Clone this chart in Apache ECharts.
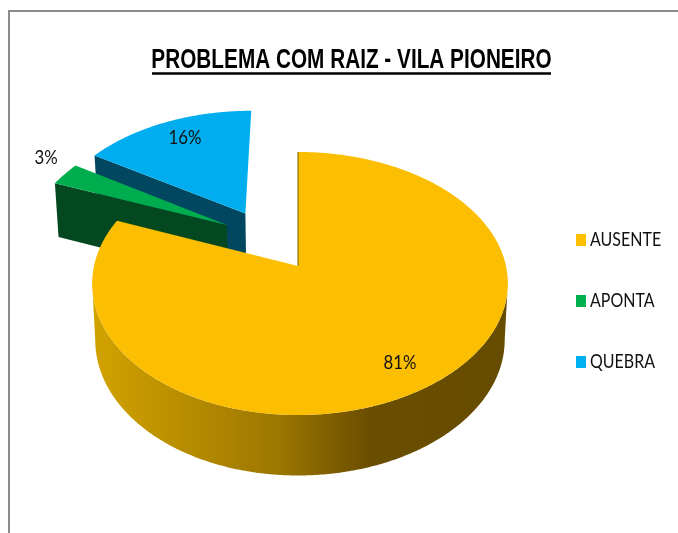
<!DOCTYPE html>
<html><head><meta charset="utf-8">
<style>html,body{margin:0;padding:0;background:#fff}#c{width:678px;height:533px}</style>
<script src="https://cdn.jsdelivr.net/npm/echarts@6/dist/echarts.min.js"></script>
</head><body><div id="c"></div>
<script>
const chartTitle = 'PROBLEMA COM RAIZ - VILA PIONEIRO';
const categories = ['AUSENTE', 'APONTA', 'QUEBRA'];
const values = [81, 3, 16];
const topColors = ['#FCBE00', '#00AD4E', '#00AEEF'];
const sideColors = [null, '#04481F', '#00475F'];
const legendColors = ['#FFC000', '#00B050', '#00B0F0'];
const explode = [[0, 0], [-0.36, 0.331], [-0.27, 0.43]];
const rimShift = [0.0097, 0, 0];
const labelAt = [[400, 363], [46, 158], [185, 138]];
const legendRowY = [240, 301, 362];
const zOrder = [4, 3, 2];

const VIEW = {cx: 298, cy: 266, bx: 206, by: 129.2, k: 0.133, depth: 56, sx: 0.985, sy: 1.03};
const LABEL_FONT = 'Lato, "Open Sans", sans-serif';
const TITLE_FONT = '"Liberation Sans", Arial, sans-serif';
const total = values.reduce((a, b) => a + b, 0);

function project(u, v) {
  const d = 1 + VIEW.k * v;
  return [VIEW.cx + VIEW.bx * u / d, VIEW.cy - VIEW.by * v / d];
}
function lower(p) {
  return [VIEW.cx + (p[0] - VIEW.cx) * VIEW.sx, VIEW.cy + VIEW.depth + (p[1] - VIEW.cy) * VIEW.sy];
}
function rim(a, off, shift) {
  const s = Math.sin(a);
  return project(off[0] + shift * s * s + s, off[1] + Math.cos(a));
}
function arcPoints(a0, a1, off, shift) {
  const n = Math.max(2, Math.ceil(Math.abs(a1 - a0) / 0.01)), pts = [];
  for (let i = 0; i <= n; i++) pts.push(rim(a0 + (a1 - a0) * i / n, off, shift));
  return pts;
}
function sliceAngles(i) {
  let s = 0;
  for (let j = 0; j < i; j++) s += values[j];
  return [s / total * 2 * Math.PI, (s + values[i]) / total * 2 * Math.PI];
}
function poly(points, fill) {
  return {type: 'polygon', shape: {points: points}, style: {fill: fill}};
}
function makeRender(i) {
  return function (params, api) {
    const [a0, a1] = sliceAngles(i);
    const off = explode[i], shift = rimShift[i];
    const apex = project(off[0], off[1]);
    const kids = [];
    if (i === 0) {
      const from = Math.max(a0, 97.6 * Math.PI / 180), to = Math.min(a1, 262.4 * Math.PI / 180);
      const front = arcPoints(from, to, off, shift);
      kids.push(poly(front.concat(front.map(lower).reverse()), new echarts.graphic.LinearGradient(0, 0, 1, 0, [
        {offset: 0, color: '#D2A300'},
        {offset: 0.45, color: '#9C7600'},
        {offset: 0.67, color: '#6A4E00'},
        {offset: 1, color: '#664C00'}
      ])));
    } else {
      const corner = rim(a0, off, shift);
      kids.push(poly([corner, apex, lower(apex), lower(corner)], sideColors[i]));
    }
    kids.push(poly([apex].concat(arcPoints(a0, a1, off, shift)), topColors[i]));
    if (i === 0) {
      const p = rim(a0, off, shift);
      kids.push({type: 'line', shape: {x1: apex[0], y1: apex[1], x2: p[0], y2: p[1]},
        style: {stroke: '#7A5C00', lineWidth: 1}});
    }
    kids.push({type: 'text', z2: 10, x: labelAt[i][0], y: labelAt[i][1], scaleX: 0.84, style: {
      text: Math.round(api.value(0) / total * 100) + '%',
      font: '20px ' + LABEL_FONT, fill: '#111', align: 'center', verticalAlign: 'middle'}});
    return {type: 'group', children: kids};
  };
}
const legendMarks = categories.flatMap((name, i) => [
  {type: 'rect', shape: {x: 576, y: legendRowY[i] - 6, width: 10, height: 12}, style: {fill: legendColors[i]}},
  {type: 'text', x: 590, y: legendRowY[i], scaleX: 0.8,
    style: {text: name, font: '20px ' + LABEL_FONT, fill: '#111', align: 'left', verticalAlign: 'middle'}}
]);
const chart = echarts.init(document.getElementById('c'), null, {renderer: 'canvas'});
chart.setOption({
  animation: false,
  backgroundColor: '#fff',
  graphic: [
    {type: 'polyline', shape: {points: [[9, 533], [9, 11], [678, 11]]}, style: {stroke: '#8C8C8C', lineWidth: 2, fill: null}},
    {type: 'text', x: 351.5, y: 61, scaleX: 0.769, style: {text: chartTitle, font: 'bold 27px ' + TITLE_FONT, fill: '#000', align: 'center', verticalAlign: 'middle'}},
    {type: 'line', shape: {x1: 152, y1: 73.5, x2: 551, y2: 73.5}, style: {stroke: '#000', lineWidth: 2.5}}
  ].concat(legendMarks),
  series: categories.map((name, i) => ({
    type: 'custom', name: name, coordinateSystem: 'none', z: zOrder[i],
    itemStyle: {color: legendColors[i]},
    data: [values[i]], renderItem: makeRender(i)
  }))
});
</script></body></html>
